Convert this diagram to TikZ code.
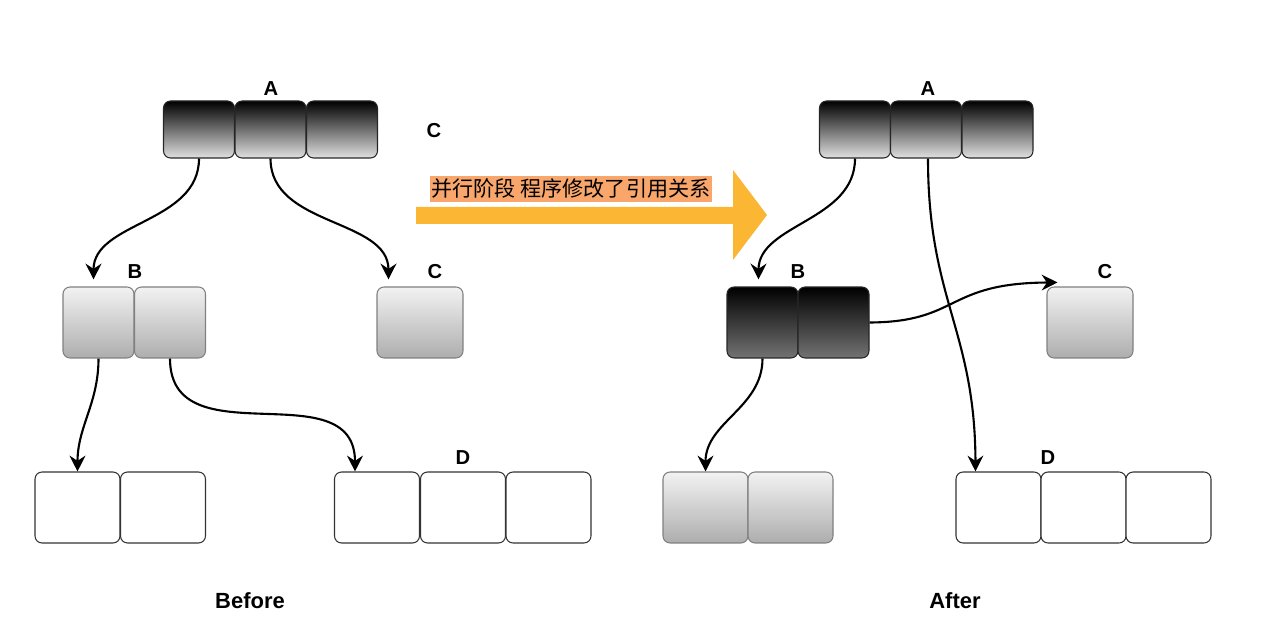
\documentclass[tikz,border=0pt]{standalone}
\usepackage{fontspec}
\setmainfont{Liberation Sans}
\newfontfamily\cjk{Noto Sans CJK SC}
\usetikzlibrary{positioning,arrows.meta,calc}

\definecolor{phasearrow}{HTML}{FBB634}
\definecolor{phaselabel}{HTML}{F9A66C}

\tikzset{
  cell/.style={draw, rounded corners=4pt, minimum width=1.7cm, minimum height=1.42cm, inner sep=0pt, line width=0.6pt},
  cellblack/.style={cell, top color=black, bottom color=black!12, draw=black!85},
  cellgray/.style={cell, top color=black!5, bottom color=black!32, draw=black!50},
  cellwhite/.style={cell, fill=white, draw=black!80},
  lbl/.style={font=\bfseries\fontsize{11.5}{13}\selectfont, inner sep=0pt},
  ref/.style={line width=1.2pt, -{Stealth[length=9pt,width=9pt,inset=3pt]}},
}

\begin{document}
\begin{tikzpicture}[x=0.02cm, y=-0.02cm]
  \useasboundingbox (0,0) rectangle (1270,644);
  % ---- Before ----
  \foreach \i/\x in {1/199,2/270.5,3/342} {
    \node[cellblack, minimum width=1.42cm, minimum height=1.14cm] (ba\i) at (\x,129.5) {};
  }
  \foreach \i/\x in {1/98.5,2/170} {
    \node[cellgray, minimum width=1.42cm] (bb\i) at (\x,322.5) {};
  }
  \node[cellgray, minimum width=1.72cm] (bc) at (420,322.5) {};
  \foreach \i/\x in {1/77.5,2/163} {
    \node[cellwhite] (bl\i) at (\x,507.5) {};
  }
  \foreach \i/\x in {1/377,2/463,3/548.5} {
    \node[cellwhite] (bd\i) at (\x,507.5) {};
  }
  \node[lbl] (balbl) at (271,89) {A};
  \node[lbl] (bclone) at (434,131) {C};
  \node[lbl] (bblbl) at (135,272) {B};
  \node[lbl] (bclbl) at (435,272) {C};
  \node[lbl] (bdlbl) at (463,458) {D};
  \node[lbl, font=\bfseries\fontsize{12.5}{14}\selectfont] (before) at (250,601) {Before};
  \draw[ref, shorten >=4pt] (ba1.south) to[out=-90,in=90] ($(bb1.north)+(-5,0)$);
  \draw[ref, shorten >=4pt] (ba2.south) to[out=-90,in=90] ($(bc.north west)+(12,0)$);
  \draw[ref] (bb1.south) to[out=-90,in=90] (bl1.north);
  \draw[ref] (bb2.south) to[out=-90,in=90,looseness=1.2] ($(bd1.north)+(-22,0)$);

  % ---- phase arrow ----
  \fill[phasearrow] (416,207) -- (733,207) -- (733,170) -- (767,215)
    -- (733,260) -- (733,224) -- (416,224) -- cycle;
  \node[fill=phaselabel, inner xsep=1pt, inner ysep=2pt, font=\fontsize{12}{14}\selectfont]
    (phase) at (571,189) {\cjk 并行阶段 程序修改了引用关系};

  % ---- After ----
  \foreach \i/\x in {1/855,2/926,3/997.5} {
    \node[cellblack, minimum width=1.42cm, minimum height=1.14cm] (aa\i) at (\x,129.5) {};
  }
  \foreach \i/\x in {1/762.5,2/833.5} {
    \node[cellblack, bottom color=black!55, minimum width=1.42cm] (ab\i) at (\x,322.5) {};
  }
  \node[cellgray, minimum width=1.72cm] (ac) at (1090,322.5) {};
  \foreach \i/\x in {1/705.5,2/790.5} {
    \node[cellgray] (al\i) at (\x,507.5) {};
  }
  \foreach \i/\x in {1/998.5,2/1083.5,3/1168.5} {
    \node[cellwhite] (ad\i) at (\x,507.5) {};
  }
  \node[lbl] (aalbl) at (928,89) {A};
  \node[lbl] (ablbl) at (798,272) {B};
  \node[lbl] (aclbl) at (1105,272) {C};
  \node[lbl] (adlbl) at (1048,458) {D};
  \node[lbl, font=\bfseries\fontsize{12.5}{14}\selectfont] (after) at (955,601) {After};
  \draw[ref, shorten >=4pt] (aa1.south) to[out=-90,in=90] ($(ab1.north)+(-4,0)$);
  \draw[ref] (ab1.south) to[out=-90,in=90] (al1.north);
  \draw[ref] (ab2.east) .. controls (960,322) and (945,283) .. ($(ac.north west)+(11,-4)$);
  \draw[ref] ($(aa2.south)+(2,0)$) .. controls (928,300) and (975,330) .. ($(ad1.north)+(-23,0)$);
\end{tikzpicture}
\end{document}
